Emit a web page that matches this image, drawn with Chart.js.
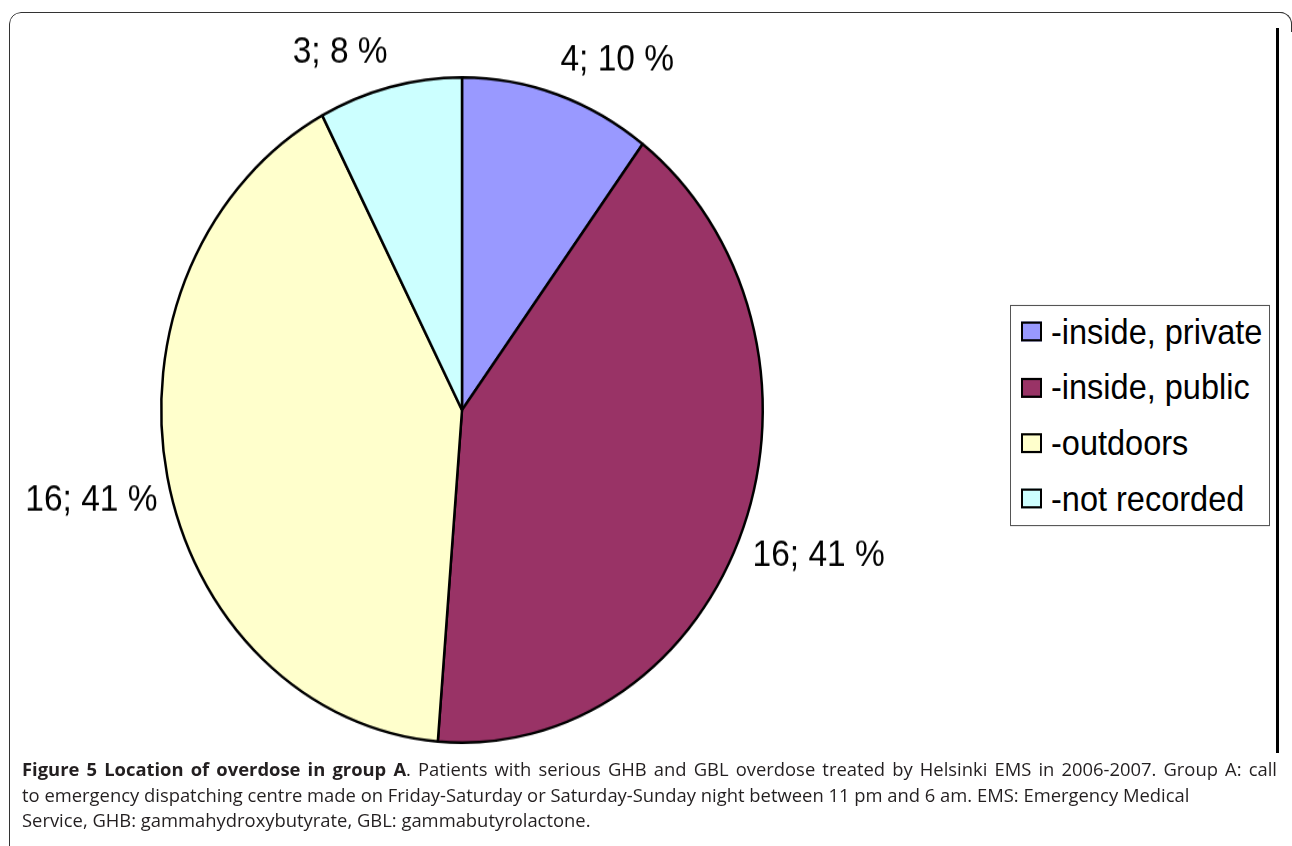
<!DOCTYPE html>
<html>
<head>
  <meta charset="UTF-8">
  <title>Figure 5 Location of overdose in group A</title>
  <script src="https://cdn.jsdelivr.net/npm/chart.js"></script>
  <style>
    body {
      margin: 0;
      width: 1292px;
      height: 846px;
      overflow: hidden;
      background: #fff;
      position: relative;
    }
    .frame {
      position: absolute;
      left: 9px;
      top: 12px;
      width: 1300px;
      height: 900px;
      border: 1.5px solid #333;
      border-radius: 12px;
      box-sizing: border-box;
      clip-path: inset(0 17px 0 0 round 12px);
    }
    .frame-right {
      position: absolute;
      left: 1276px;
      top: 12px;
      width: 16px;
      height: 20px;
      border-top: 1.5px solid #333;
      border-right: 1.5px solid #333;
      border-top-right-radius: 12px;
      box-sizing: border-box;
    }
    .vline {
      position: absolute;
      left: 1276px;
      top: 28px;
      width: 3px;
      height: 725px;
      background: #000;
    }
    /* the original figure is stretched vertically, so the chart is too */
    .stretch {
      position: absolute;
      left: 0;
      top: 0;
      width: 1292px;
      height: 800px;
      transform-origin: 462px 410px;
      transform: scaleY(1.106);
    }
    #pie {
      position: absolute;
      left: 0;
      top: 0;
    }
    .legend {
      position: absolute;
      left: 1010px;
      top: 315px;
      width: 260px;
      height: 200px;
      border: 1px solid #555;
      box-sizing: border-box;
      background: #fff;
      font-family: "Liberation Sans", Arial, sans-serif;
      font-size: 32.5px;
      color: #000;
    }
    .legend .item {
      position: absolute;
      left: 10px;
      height: 40px;
      line-height: 40px;
      white-space: nowrap;
    }
    .legend .box {
      display: inline-block;
      width: 21px;
      height: 18px;
      border: 2px solid #000;
      box-sizing: border-box;
      vertical-align: middle;
      margin-right: 9px;
      position: relative;
      top: -2px;
    }
    .caption {
      position: absolute;
      left: 22px;
      top: 756px;
      width: 1255px;
      font-family: "Open Sans", sans-serif;
      font-size: 18.4px;
      color: #231f20;
      line-height: 25.5px;
      white-space: nowrap;
    }
    .caption .just {
      text-align: justify;
      text-align-last: justify;
      white-space: normal;
    }
    .caption b {
      font-weight: 700;
    }
  </style>
</head>
<body>

<div class="frame"></div>
<div class="frame-right"></div>
<div class="vline"></div>

<div class="stretch">
  <canvas id="pie" width="1000" height="800"></canvas>
  <div class="legend" id="legend"></div>
</div>

<div class="caption">
  <div class="just"><b>Figure 5 Location of overdose in group A</b>. Patients with serious GHB and GBL overdose treated by Helsinki EMS in 2006-2007. Group A: call</div>
  <div>to emergency dispatching centre made on Friday-Saturday or Saturday-Sunday night between 11 pm and 6 am. EMS: Emergency Medical</div>
  <div>Service, GHB: gammahydroxybutyrate, GBL: gammabutyrolactone.</div>
</div>

<script>
  // 데이터
  const categories = ['-inside, private', '-inside, public', '-outdoors', '-not recorded'];
  const counts = [4, 16, 16, 3];
  const colors = ['#9999ff', '#993366', '#ffffcc', '#ccffff'];

  // 조각 바깥쪽에 "n; p %" 라벨 그리기
  const sliceLabels = {
    id: 'sliceLabels',
    afterDatasetsDraw(chart) {
      const ctx = chart.ctx;
      const meta = chart.getDatasetMeta(0);
      const data = chart.data.datasets[0].data;
      const total = data.reduce((a, b) => a + b, 0);
      ctx.save();
      ctx.font = '33.5px "Liberation Sans", Arial, sans-serif';
      ctx.fillStyle = '#000';
      meta.data.forEach((arc, i) => {
        const p = arc.getProps(['x', 'y', 'startAngle', 'endAngle', 'outerRadius'], true);
        const mid = (p.startAngle + p.endAngle) / 2;
        const cx = Math.cos(mid), cy = Math.sin(mid);
        const x = p.x + cx * (p.outerRadius + 10);
        const y = p.y + cy * (p.outerRadius + 23);
        ctx.textAlign = cx >= 0 ? 'left' : 'right';
        ctx.textBaseline = cy >= 0 ? 'top' : 'alphabetic';
        const pct = Math.round(data[i] / total * 100);
        ctx.fillText(data[i] + '; ' + pct + ' %', x, y);
      });
      ctx.restore();
    }
  };

  const pieChart = new Chart(document.getElementById('pie').getContext('2d'), {
    type: 'pie',
    data: {
      labels: categories,
      datasets: [{
        data: counts,
        backgroundColor: colors,
        borderColor: '#000',
        borderWidth: 2.5
      }]
    },
    options: {
      responsive: false,
      animation: false,
      layout: {
        padding: { left: 160, right: 236, top: 108, bottom: 88 }
      },
      plugins: {
        legend: { display: false },
        tooltip: { enabled: false }
      }
    },
    plugins: [sliceLabels]
  });

  // 범례 (차트 데이터에서 생성)
  const legendEl = document.getElementById('legend');
  pieChart.data.labels.forEach((label, i) => {
    const item = document.createElement('div');
    item.className = 'item';
    item.style.top = (3 + i * 50.3) + 'px';
    const box = document.createElement('span');
    box.className = 'box';
    box.style.background = pieChart.data.datasets[0].backgroundColor[i];
    item.appendChild(box);
    item.appendChild(document.createTextNode(label));
    legendEl.appendChild(item);
  });
</script>

</body>
</html>
